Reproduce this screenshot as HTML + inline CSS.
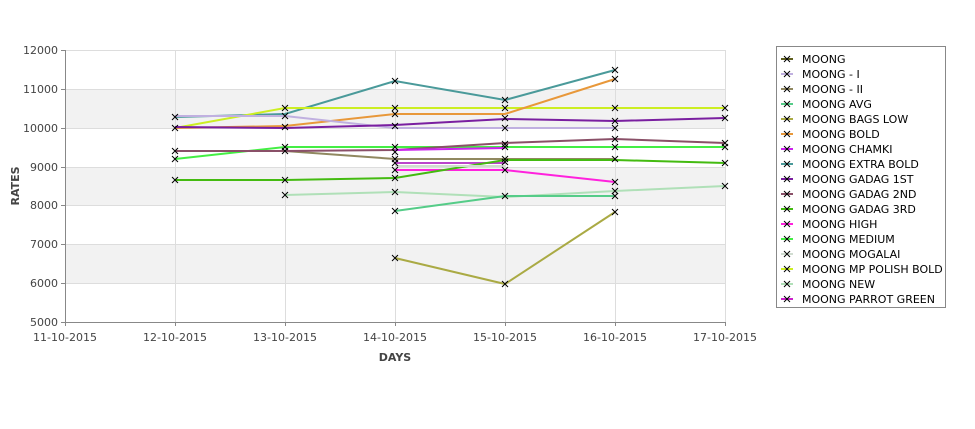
<!DOCTYPE html>
<html><head><meta charset="utf-8"><style>body{margin:0;background:#fff}svg{display:block}text{font-family:"DejaVu Sans",sans-serif;font-size:11px;fill:#444}.lg text{fill:#000}</style></head><body>
<svg width="975" height="429" xmlns="http://www.w3.org/2000/svg">
<defs><g id="x"><path d="M-3,-3L3,3M-3,3L3,-3" stroke="#000" stroke-width="1"/></g></defs>
<rect x="65" y="89" width="660" height="39" fill="#f2f2f2"/>
<rect x="65" y="167" width="660" height="38" fill="#f2f2f2"/>
<rect x="65" y="244" width="660" height="39" fill="#f2f2f2"/>
<g stroke="#ddd" stroke-width="1" fill="none">
<path d="M65,50.5H725M65,89.5H725M65,128.5H725M65,167.5H725M65,205.5H725M65,244.5H725M65,283.5H725"/>
<path d="M175.5,50V322M285.5,50V322M395.5,50V322M505.5,50V322M615.5,50V322M725.5,50V322"/>
</g>
<g stroke="#888" stroke-width="1" fill="none"><path d="M65.5,50V322.5H725"/>
<path d="M61,50.5H65M61,89.5H65M61,128.5H65M61,167.5H65M61,205.5H65M61,244.5H65M61,283.5H65M61,322.5H65"/>
<path d="M65.5,322V326M175.5,322V326M285.5,322V326M395.5,322V326M505.5,322V326M615.5,322V326M725.5,322V326"/></g>
<g text-anchor="end"><text x="58" y="54">12000</text><text x="58" y="93">11000</text><text x="58" y="132">10000</text><text x="58" y="171">9000</text><text x="58" y="209">8000</text><text x="58" y="248">7000</text><text x="58" y="287">6000</text><text x="58" y="326">5000</text></g>
<g text-anchor="middle"><text x="65" y="341">11-10-2015</text><text x="175" y="341">12-10-2015</text><text x="285" y="341">13-10-2015</text><text x="395" y="341">14-10-2015</text><text x="505" y="341">15-10-2015</text><text x="615" y="341">16-10-2015</text><text x="725" y="341">17-10-2015</text>
<text x="395" y="361" font-weight="bold">DAYS</text></g>
<text transform="translate(19,186) rotate(-90)" text-anchor="middle" font-weight="bold">RATES</text>
<g fill="none" stroke-width="2">
<polyline stroke="#4a9a9a" points="175,117 285,114 395,81 505,100 615,70"/>
<polyline stroke="#ccee22" points="175,128 285,108 395,108 505,108 615,108 725,108"/>
<polyline stroke="#e8983a" points="175,128 285,126 395,114 505,114 615,79"/>
<polyline stroke="#c0b0e0" points="175,116 285,116 395,128 505,128 615,128"/>
<polyline stroke="#7a1fa0" points="175,127 285,128 395,125 505,119 615,121 725,118"/>
<polyline stroke="#44ee44" points="175,159 285,147 395,147 505,147 615,147 725,147"/>
<polyline stroke="#908860" points="175,151 285,151 395,159 505,159 615,159"/>
<polyline stroke="#8a5068" points="175,151 285,151 395,150 505,143 615,139 725,143"/>
<polyline stroke="#cc22ee" points="395,150 505,148"/>
<polyline stroke="#bb44cc" points="395,163 505,163"/>
<polyline stroke="#ff22dd" points="395,170 505,170 615,182"/>
<polyline stroke="#44bb11" points="175,180 285,180 395,178 505,160 615,160 725,163"/>
<polyline stroke="#d0dcd0" points="395,166 505,166"/>
<polyline stroke="#b0e0b8" points="285,195 395,192 505,197 615,191 725,186"/>
<polyline stroke="#55cc88" points="395,211 505,196 615,196"/>
<polyline stroke="#aaaa44" points="395,258 505,284 615,212"/>
</g>
<g>
<use href="#x" x="175" y="117"/><use href="#x" x="175" y="128"/><use href="#x" x="175" y="151"/><use href="#x" x="175" y="159"/><use href="#x" x="175" y="180"/>
<use href="#x" x="285" y="108"/><use href="#x" x="285" y="116"/><use href="#x" x="285" y="127"/><use href="#x" x="285" y="147"/><use href="#x" x="285" y="151"/><use href="#x" x="285" y="180"/><use href="#x" x="285" y="195"/>
<use href="#x" x="395" y="81"/><use href="#x" x="395" y="108"/><use href="#x" x="395" y="114"/><use href="#x" x="395" y="126"/><use href="#x" x="395" y="147"/><use href="#x" x="395" y="152"/><use href="#x" x="395" y="159"/><use href="#x" x="395" y="163"/><use href="#x" x="395" y="170"/><use href="#x" x="395" y="178"/><use href="#x" x="395" y="192"/><use href="#x" x="395" y="211"/><use href="#x" x="395" y="258"/>
<use href="#x" x="505" y="100"/><use href="#x" x="505" y="108"/><use href="#x" x="505" y="118"/><use href="#x" x="505" y="128"/><use href="#x" x="505" y="144"/><use href="#x" x="505" y="147"/><use href="#x" x="505" y="159"/><use href="#x" x="505" y="162"/><use href="#x" x="505" y="170"/><use href="#x" x="505" y="196"/><use href="#x" x="505" y="284"/>
<use href="#x" x="615" y="70"/><use href="#x" x="615" y="79"/><use href="#x" x="615" y="108"/><use href="#x" x="615" y="121"/><use href="#x" x="615" y="128"/><use href="#x" x="615" y="139"/><use href="#x" x="615" y="147"/><use href="#x" x="615" y="159"/><use href="#x" x="615" y="182"/><use href="#x" x="615" y="191"/><use href="#x" x="615" y="196"/><use href="#x" x="615" y="212"/>
<use href="#x" x="725" y="108"/><use href="#x" x="725" y="118"/><use href="#x" x="725" y="143"/><use href="#x" x="725" y="147"/><use href="#x" x="725" y="163"/><use href="#x" x="725" y="186"/>
</g>
<rect x="776.5" y="46.5" width="169" height="261" fill="#fff" stroke="#888"/>
<g stroke-width="2">
<path stroke="#606020" d="M781,59H793"/><path stroke="#c0b0e0" d="M781,74H793"/><path stroke="#908860" d="M781,89H793"/><path stroke="#55cc88" d="M781,104H793"/><path stroke="#aaaa44" d="M781,119H793"/><path stroke="#e8983a" d="M781,134H793"/><path stroke="#cc22ee" d="M781,149H793"/><path stroke="#4a9a9a" d="M781,164H793"/><path stroke="#7a1fa0" d="M781,179H793"/><path stroke="#8a5068" d="M781,194H793"/><path stroke="#44bb11" d="M781,209H793"/><path stroke="#ff22dd" d="M781,224H793"/><path stroke="#44ee44" d="M781,239H793"/><path stroke="#d0dcd0" d="M781,254H793"/><path stroke="#ccee22" d="M781,269H793"/><path stroke="#b0e0b8" d="M781,284H793"/><path stroke="#cc22cc" d="M781,299H793"/>
</g>
<g><use href="#x" x="787" y="59"/><use href="#x" x="787" y="74"/><use href="#x" x="787" y="89"/><use href="#x" x="787" y="104"/><use href="#x" x="787" y="119"/><use href="#x" x="787" y="134"/><use href="#x" x="787" y="149"/><use href="#x" x="787" y="164"/><use href="#x" x="787" y="179"/><use href="#x" x="787" y="194"/><use href="#x" x="787" y="209"/><use href="#x" x="787" y="224"/><use href="#x" x="787" y="239"/><use href="#x" x="787" y="254"/><use href="#x" x="787" y="269"/><use href="#x" x="787" y="284"/><use href="#x" x="787" y="299"/></g>
<g class="lg">
<text x="802" y="63">MOONG</text><text x="802" y="78">MOONG - I</text><text x="802" y="93">MOONG - II</text><text x="802" y="108">MOONG AVG</text><text x="802" y="123">MOONG BAGS LOW</text><text x="802" y="138">MOONG BOLD</text><text x="802" y="153">MOONG CHAMKI</text><text x="802" y="168">MOONG EXTRA BOLD</text><text x="802" y="183">MOONG GADAG 1ST</text><text x="802" y="198">MOONG GADAG 2ND</text><text x="802" y="213">MOONG GADAG 3RD</text><text x="802" y="228">MOONG HIGH</text><text x="802" y="243">MOONG MEDIUM</text><text x="802" y="258">MOONG MOGALAI</text><text x="802" y="273">MOONG MP POLISH BOLD</text><text x="802" y="288">MOONG NEW</text><text x="802" y="303">MOONG PARROT GREEN</text>
</g>
</svg>
</body></html>
